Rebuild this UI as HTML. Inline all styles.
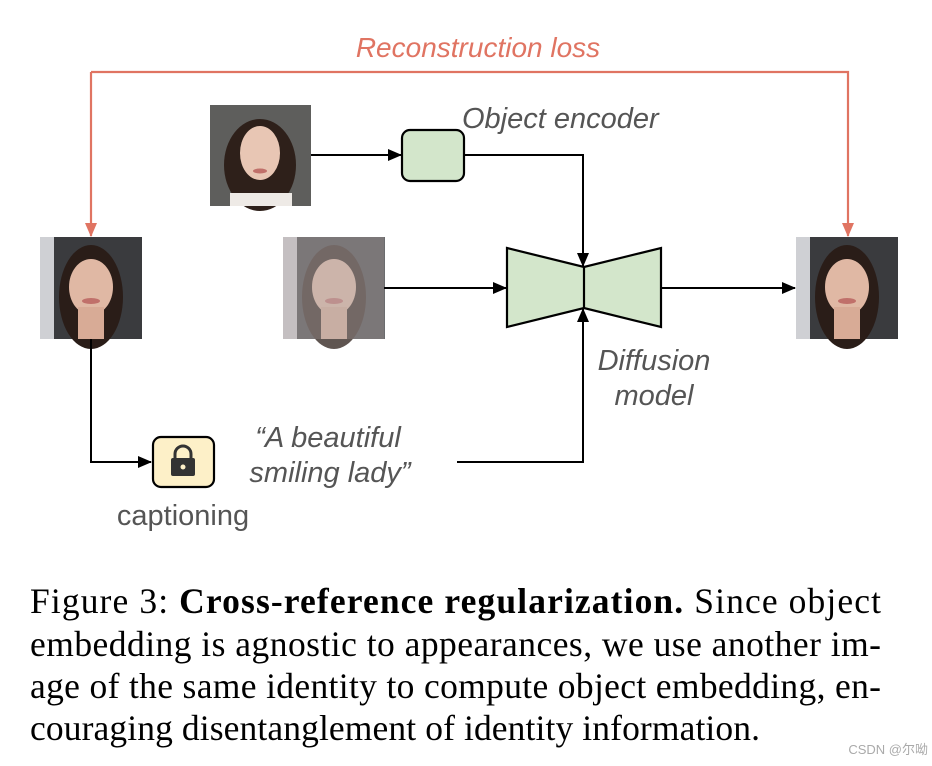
<!DOCTYPE html>
<html><head><meta charset="utf-8"><style>
body{margin:0;background:#fff;width:932px;height:766px;overflow:hidden}
svg{display:block}
.it{font-family:"Liberation Sans",sans-serif;font-style:italic;fill:#555;font-size:29px}
.cap{font-family:"Liberation Serif",serif;font-size:35.5px;fill:#000}
</style></head><body>
<svg width="932" height="766" viewBox="0 0 932 766">
<defs>
<marker id="a" markerWidth="14" markerHeight="12" refX="13" refY="6" orient="auto" markerUnits="userSpaceOnUse"><path d="M0,0 L14,6 L0,12 z" fill="#000"/></marker>
<marker id="r" markerWidth="14" markerHeight="12" refX="13" refY="6" orient="auto" markerUnits="userSpaceOnUse"><path d="M0,0 L14,6 L0,12 z" fill="#e07462"/></marker>
<g id="face">
<rect width="102" height="102" fill="#3a3b3e"/>
<rect x="0" y="0" width="14" height="102" fill="#cfd0d4"/>
<ellipse cx="51" cy="60" rx="32" ry="52" fill="#2a1d18"/>
<ellipse cx="51" cy="50" rx="22" ry="28" fill="#e0b8a4"/>
<rect x="38" y="70" width="26" height="32" fill="#d8ab96"/>
<ellipse cx="51" cy="64" rx="9" ry="3" fill="#c0706a"/>
</g>
</defs>
<text x="478" y="57" text-anchor="middle" class="it" style="fill:#e07462;font-size:28px">Reconstruction loss</text>
<polyline points="91,72 848,72 848,236" fill="none" stroke="#e07462" stroke-width="2.2" marker-end="url(#r)"/>
<line x1="91" y1="72" x2="91" y2="236" stroke="#e07462" stroke-width="2.2" marker-end="url(#r)"/>
<g transform="translate(210,105)">
<rect width="101" height="101" fill="#5e5e5c"/>
<ellipse cx="50" cy="60" rx="36" ry="46" fill="#2e201a"/>
<ellipse cx="50" cy="48" rx="20" ry="27" fill="#e8c6b4"/>
<rect x="20" y="88" width="62" height="13" fill="#eeeae6"/>
<ellipse cx="50" cy="66" rx="7" ry="2.5" fill="#c0706a"/>
</g>
<use href="#face" x="40" y="237"/>
<use href="#face" x="796" y="237"/>
<g transform="translate(283,237)" opacity="0.75"><use href="#face"/></g>
<rect x="283" y="237" width="101" height="102" fill="#9a8c8c" opacity="0.35"/>
<text x="462" y="128" class="it">Object encoder</text>
<rect x="402" y="130" width="62" height="51" rx="8" fill="#d3e6cb" stroke="#000" stroke-width="2.2"/>
<line x1="311" y1="155" x2="401" y2="155" stroke="#000" stroke-width="2" marker-end="url(#a)"/>
<polyline points="464,155 583,155 583,266" fill="none" stroke="#000" stroke-width="2" marker-end="url(#a)"/>
<polygon points="507,248 584,267 661,248 661,327 584,308 507,327" fill="#d3e6cb" stroke="#000" stroke-width="2.2"/>
<line x1="584" y1="267" x2="584" y2="308" stroke="#000" stroke-width="2.2"/>
<line x1="384" y1="288" x2="506" y2="288" stroke="#000" stroke-width="2" marker-end="url(#a)"/>
<line x1="661" y1="288" x2="795" y2="288" stroke="#000" stroke-width="2" marker-end="url(#a)"/>
<text x="654" y="370" text-anchor="middle" class="it">Diffusion</text>
<text x="654" y="405" text-anchor="middle" class="it">model</text>
<polyline points="457,462 583,462 583,309" fill="none" stroke="#000" stroke-width="2" marker-end="url(#a)"/>
<polyline points="91,339 91,462 151,462" fill="none" stroke="#000" stroke-width="2" marker-end="url(#a)"/>
<rect x="153" y="437" width="61" height="50" rx="8" fill="#fdf0c8" stroke="#000" stroke-width="2.2"/>
<path d="M175,459 v-5 a8,8 0 0 1 16,0 v5" fill="none" stroke="#333" stroke-width="3"/>
<rect x="171" y="458" width="24" height="18" rx="2" fill="#333"/>
<circle cx="183" cy="467" r="2.5" fill="#fdf0c8"/>
<text x="328" y="447" text-anchor="middle" class="it">“A beautiful</text>
<text x="330" y="482" text-anchor="middle" class="it">smiling lady”</text>
<text x="183" y="525" text-anchor="middle" style="font-family:'Liberation Sans',sans-serif;font-size:29px;fill:#555">captioning</text>
<text x="30" y="613" class="cap" textLength="851" lengthAdjust="spacing">Figure 3: <tspan font-weight="bold">Cross-reference regularization.</tspan> Since object</text>
<text x="30" y="656" class="cap" textLength="851" lengthAdjust="spacing">embedding is agnostic to appearances, we use another im-</text>
<text x="30" y="698" class="cap" textLength="851" lengthAdjust="spacing">age of the same identity to compute object embedding, en-</text>
<text x="30" y="740" class="cap" textLength="730" lengthAdjust="spacing">couraging disentanglement of identity information.</text>
<text x="928" y="754" text-anchor="end" style="font-family:'Liberation Sans','Noto Sans CJK SC',sans-serif;font-size:13px;fill:#aaa">CSDN @尔呦</text>
</svg>
</body></html>
